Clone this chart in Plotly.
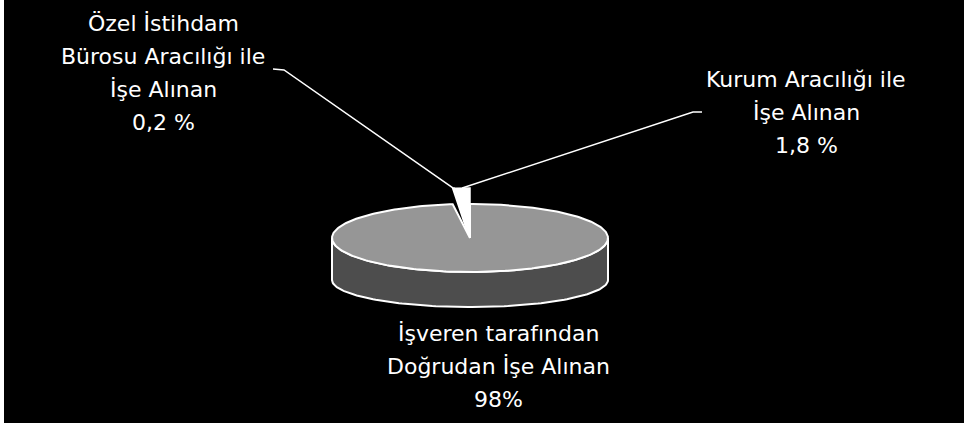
import numpy as np
import plotly.graph_objects as go

# ---- data ----
categories = ["İşveren tarafından Doğrudan İşe Alınan",
              "Özel İstihdam Bürosu Aracılığı ile İşe Alınan",
              "Kurum Aracılığı ile İşe Alınan"]
values = [98.0, 0.2, 1.8]
label_lines = [["İşveren tarafından", "Doğrudan İşe Alınan", "98%"],
               ["Özel İstihdam", "Bürosu Aracılığı ile", "İşe Alınan", "0,2 %"],
               ["Kurum Aracılığı ile", "İşe Alınan", "1,8 %"]]

# ---- style / layout ----
top_colors = ["#969696", "#ffffff", "#ffffff"]
side_colors = ["#4d4d4d", "#dcdcdc", "#dcdcdc"]
edge_colors = ["#ffffff", "#ffffff", "#ffffff"]
explode = [0, 16, 16]
CX, CY, RX, RY = 470.0, 238.0, 138.0, 34.0
DEPTH, RY_BOTTOM = 42.0, 27.0
label_pos = [(498, 333), (163, 23), (806, 79)]
line_gap = 33
leader_elbows = [None, [(273, 69), (284, 70)], [(702, 112), (693, 112)]]
FONT = dict(family="DejaVu Sans", size=22, color="white")

fig = go.Figure()


def top_pt(theta, extra=0.0):
    t = np.radians(theta)
    return CX + RX * np.sin(t), CY - (RY + extra) * np.cos(t)


def bot_pt(theta):
    t = np.radians(theta)
    return CX + RX * np.sin(t), CY + DEPTH - RY_BOTTOM * np.cos(t)


total = sum(values)
angles = []
a = 0.0
for v in values:
    angles.append((a, a + 360.0 * v / total))
    a += 360.0 * v / total

# exploded small wedges first (they sit behind the main slice)
for i, (a0, a1) in enumerate(angles):
    if explode[i] == 0:
        continue
    th = np.linspace(a0, a1, 8)
    xs, ys = [CX], [CY + 2]
    for t in th:
        x, y = top_pt(t, explode[i])
        xs.append(x)
        ys.append(y)
    xs.append(CX)
    ys.append(CY + 2)
    fig.add_trace(go.Scatter(x=xs, y=ys, fill="toself", fillcolor=top_colors[i],
                             mode="lines", line=dict(color=edge_colors[i], width=1.5),
                             hoverinfo="skip", showlegend=False))

# main slices: side face then top face
for i, (a0, a1) in enumerate(angles):
    if explode[i] != 0:
        continue
    s0, s1 = max(a0, 90.0), min(a1, 270.0)
    if s1 > s0:
        th = np.linspace(s0, s1, 120)
        xs = [top_pt(t)[0] for t in th] + [bot_pt(t)[0] for t in th[::-1]]
        ys = [top_pt(t)[1] for t in th] + [bot_pt(t)[1] for t in th[::-1]]
        xs.append(xs[0]); ys.append(ys[0])
        fig.add_trace(go.Scatter(x=xs, y=ys, fill="toself", fillcolor=side_colors[i],
                                 mode="lines", line=dict(color="white", width=2),
                                 hoverinfo="skip", showlegend=False))
    th = np.linspace(a0, a1, 300)
    xs = [CX] + [top_pt(t)[0] for t in th] + [CX]
    ys = [CY] + [top_pt(t)[1] for t in th] + [CY]
    fig.add_trace(go.Scatter(x=xs, y=ys, fill="toself", fillcolor=top_colors[i],
                             mode="lines", line=dict(color="white", width=2),
                             hoverinfo="skip", showlegend=False))

# leader lines
for i, (a0, a1) in enumerate(angles):
    if leader_elbows[i] is None:
        continue
    mid = (a0 + a1) / 2
    ex, ey = top_pt(mid, explode[i])
    pts = leader_elbows[i] + [(ex, ey)]
    fig.add_trace(go.Scatter(x=[p[0] for p in pts], y=[p[1] for p in pts],
                             mode="lines", line=dict(color="white", width=1.5),
                             hoverinfo="skip", showlegend=False))

# labels
for i, lines in enumerate(label_lines):
    lx, ly = label_pos[i]
    for k, txt in enumerate(lines):
        fig.add_annotation(x=lx, y=ly + k * line_gap, text=txt, showarrow=False,
                           xanchor="center", yanchor="middle", font=FONT)

fig.update_layout(
    width=964, height=427,
    margin=dict(l=4, r=0, t=0, b=4),
    paper_bgcolor="white", plot_bgcolor="black",
    xaxis=dict(range=[4, 964], visible=False, fixedrange=True),
    yaxis=dict(range=[423, 0], visible=False, fixedrange=True),
    showlegend=False,
)
fig.write_html("out.html", config={"displayModeBar": False},
               post_script="document.body.style.margin='0';document.body.style.overflow='hidden';")
